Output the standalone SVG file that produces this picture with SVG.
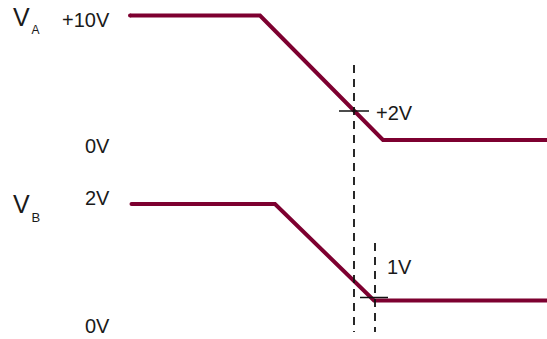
<svg xmlns="http://www.w3.org/2000/svg" width="547" height="339" viewBox="0 0 547 339">
  <style>
    .t { font-family: "Liberation Sans", Arial, sans-serif; fill: #1a1a1a; }
    .lbl { font-size: 20px; }
    .wave { fill: none; stroke: #7d0030; stroke-width: 4; stroke-linejoin: miter; stroke-linecap: butt; }
    .guide { fill: none; stroke: #111; stroke-width: 1.8; stroke-dasharray: 8 6; }
    .tick { fill: none; stroke: #111; stroke-width: 1.5; }
  </style>
  <rect width="547" height="339" fill="#fff"/>
  <g id="labels-A">
    <text class="t" x="13" y="26" font-size="25">V</text>
    <text class="t" x="31.5" y="34.3" font-size="12">A</text>
    <text class="t lbl" x="62" y="27">+10V</text>
    <text class="t lbl" x="85" y="153">0V</text>
  </g>
  <g id="labels-B">
    <text class="t" x="13" y="212.5" font-size="25">V</text>
    <text class="t" x="31.5" y="221.5" font-size="13">B</text>
    <text class="t lbl" x="85" y="205">2V</text>
    <text class="t lbl" x="85" y="333">0V</text>
  </g>
  <g id="wave-A">
    <path class="wave" d="M130,15.5 H260 L383,140 H547"/>
    <circle cx="130" cy="15.5" r="2" fill="#7d0030"/>
  </g>
  <g id="wave-B">
    <path class="wave" d="M131.5,204 H275 L374,300.5 H547"/>
    <circle cx="131.5" cy="204" r="2" fill="#7d0030"/>
  </g>
  <g id="connectors">
    <line class="guide" x1="354" y1="65" x2="354" y2="332"/>
    <line class="guide" x1="375" y1="243" x2="375" y2="332"/>
    <line class="tick" x1="339" y1="111" x2="369" y2="111"/>
    <line class="tick" x1="360" y1="297.5" x2="388" y2="297.5"/>
  </g>
  <g id="markers">
    <text class="t lbl" x="376" y="120">+2V</text>
    <text class="t lbl" x="387" y="274">1V</text>
  </g>
</svg>
